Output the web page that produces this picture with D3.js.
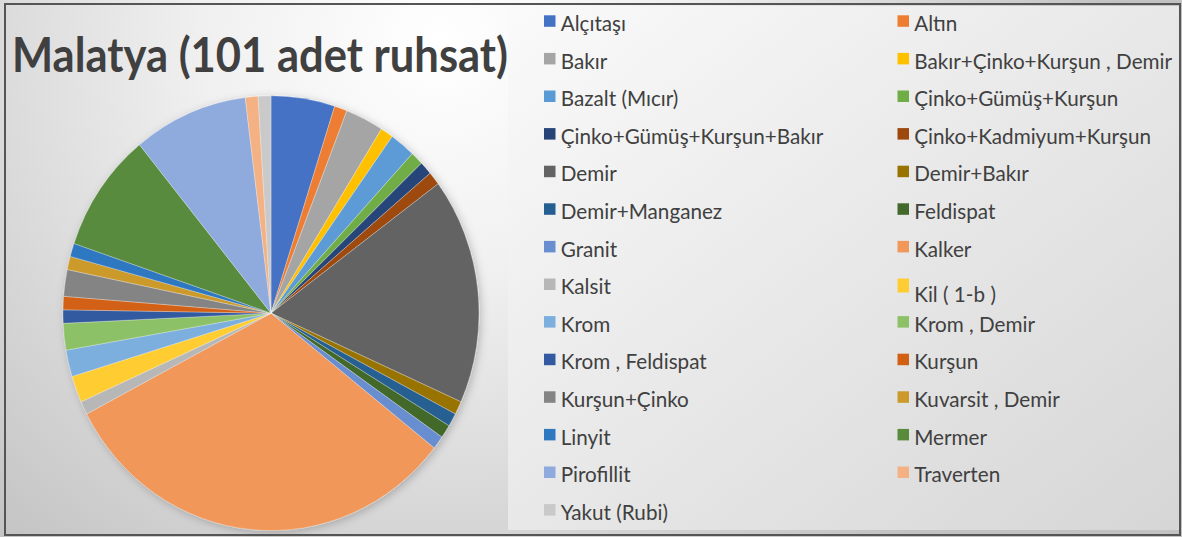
<!DOCTYPE html>
<html>
<head>
<meta charset="utf-8">
<script src="https://cdn.jsdelivr.net/npm/d3@7"></script>
<style>
  body { margin: 0; background: #fff; }
  svg { display: block; }
</style>
</head>
<body>
<div id="chart"></div>
<script>
// categories and licence counts (101 in total)
var categories = ["Alçıtaşı", "Altın", "Bakır", "Bakır+Çinko+Kurşun , Demir", "Bazalt (Mıcır)",
  "Çinko+Gümüş+Kurşun", "Çinko+Gümüş+Kurşun+Bakır", "Çinko+Kadmiyum+Kurşun", "Demir", "Demir+Bakır",
  "Demir+Manganez", "Feldispat", "Granit", "Kalker", "Kalsit", "Kil ( 1-b )", "Krom", "Krom , Demir",
  "Krom , Feldispat", "Kurşun", "Kurşun+Çinko", "Kuvarsit , Demir", "Linyit", "Mermer", "Pirofillit",
  "Traverten", "Yakut (Rubi)"];
var counts = [5, 1, 3, 1, 2, 1, 1, 1, 17, 1, 1, 1, 1, 32, 1, 2, 2, 2, 1, 1, 2, 1, 1, 9, 9, 1, 1];
var colors = ["#4472C4", "#ED7D31", "#A5A5A5", "#FFC000", "#5B9BD5", "#70AD47", "#264478", "#9E480E",
  "#636363", "#997300", "#255E91", "#43682B", "#698ED0", "#F1975A", "#B7B7B7", "#FFCD33", "#7CAFDD",
  "#8CC168", "#335AA1", "#D26012", "#848484", "#CC9A2A", "#2E78C2", "#588B3C", "#8FAADC", "#F4B183",
  "#C9C9C9"];
var title = "Malatya (101 adet ruhsat)";

var W = 1182, H = 537;

var svg = d3.select("#chart").append("svg")
    .attr("width", W)
    .attr("height", H);

var defs = svg.append("defs");

// background radial gradient
var bg = defs.append("radialGradient")
    .attr("id", "bg")
    .attr("gradientUnits", "userSpaceOnUse")
    .attr("cx", 440).attr("cy", 40).attr("r", 680);
bg.append("stop").attr("offset", "0").attr("stop-color", "#ffffff");
bg.append("stop").attr("offset", "0.35").attr("stop-color", "#f0f0f0");
bg.append("stop").attr("offset", "1").attr("stop-color", "#c2c2c2");

// legend panel gradient
var lg = defs.append("linearGradient")
    .attr("id", "legbg")
    .attr("x1", 0).attr("y1", 0).attr("x2", 1).attr("y2", 1);
lg.append("stop").attr("offset", "0").attr("stop-color", "#fafafa");
lg.append("stop").attr("offset", "1").attr("stop-color", "#d6d6d6");

var shadow = defs.append("filter").attr("id", "shadow")
    .attr("x", "-10%").attr("y", "-10%").attr("width", "120%").attr("height", "120%");
shadow.append("feDropShadow")
    .attr("dx", 2).attr("dy", 2).attr("stdDeviation", 4)
    .attr("flood-color", "#000").attr("flood-opacity", 0.22);

svg.append("rect")
    .attr("x", 0).attr("y", 0).attr("width", W).attr("height", H)
    .attr("fill", "url(#bg)");

svg.append("rect")
    .attr("x", 508).attr("y", 6).attr("width", 671).attr("height", 524)
    .attr("fill", "url(#legbg)");

// pie
var pie = d3.pie().sort(null).value(function(d) { return d; });
var arc = d3.arc().innerRadius(0).outerRadius(208);

var g = svg.append("g")
    .attr("transform", "translate(271,313.2) scale(1,1.045)");

g.append("g")
    .attr("filter", "url(#shadow)")
    .selectAll("path")
    .data(pie(counts))
    .enter().append("path")
    .attr("d", arc)
    .attr("fill", function(d, i) { return colors[i]; })
    .attr("stroke", "#ffffff")
    .attr("stroke-width", 0.4)
    .attr("stroke-opacity", 0.7);

// title
var t = svg.append("text")
    .attr("x", 12).attr("y", 72)
    .attr("font-family", "Lato, 'Open Sans', sans-serif")
    .attr("font-weight", "bold")
    .attr("font-size", 47)
    .attr("fill", "#404040")
    .text(title);
var tw = t.node().getComputedTextLength();
if (tw > 496) t.attr("textLength", 496).attr("lengthAdjust", "spacingAndGlyphs");

// legend, two columns
var colX = [544, 897.5];
var row0 = 15.3, rowStep = 37.6, sw = 11.5;
var textShift = { "Kil ( 1-b )": 8 };

var legend = svg.append("g");
var items = legend.selectAll("g")
    .data(categories)
    .enter().append("g")
    .attr("transform", function(d, i) {
      return "translate(" + colX[i % 2] + "," + (row0 + rowStep * Math.floor(i / 2)) + ")";
    });

items.append("rect")
    .attr("x", 0).attr("y", 0)
    .attr("width", sw)
    .attr("height", function(d) { return textShift[d] ? 14 : sw; })
    .attr("fill", function(d, i) { return colors[i]; });

var labels = items.append("text")
    .attr("x", 16.7)
    .attr("y", function(d) { return 15.7 + (textShift[d] || 0); })
    .attr("font-family", "Lato, 'Open Sans', sans-serif")
    .attr("font-size", 22)
    .attr("fill", "#404040")
    .text(function(d) { return d; });

// squeeze labels to the narrow face of the original
function widthOf(name) {
  return labels.filter(function(d) { return d === name; }).node().getComputedTextLength();
}
var k = Math.min(277 / widthOf("Çinko+Gümüş+Kurşun+Bakır"),
                 258 / widthOf("Bakır+Çinko+Kurşun , Demir"),
                 240 / widthOf("Çinko+Kadmiyum+Kurşun"));
labels.attr("transform", "translate(16.7,0) scale(" + k + ",1) translate(-16.7,0)");

// frame
svg.append("rect")
    .attr("x", 5).attr("y", 4).attr("width", 1175).attr("height", 531)
    .attr("fill", "none")
    .attr("stroke", "#555")
    .attr("stroke-width", 2);
</script>
</body>
</html>
